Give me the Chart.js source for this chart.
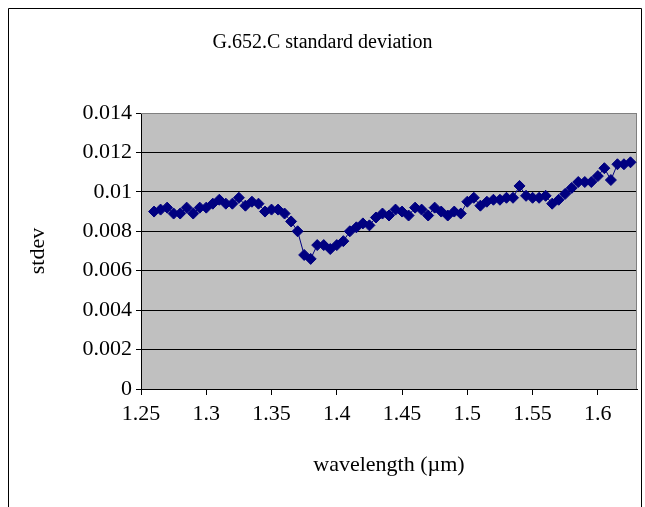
<!DOCTYPE html>
<html>
<head>
<meta charset="utf-8">
<script src="https://cdn.jsdelivr.net/npm/chart.js@4.4.1/dist/chart.umd.min.js"></script>
<style>
  body { margin: 0; background: #fff; }
  #box { position: absolute; left: 0; top: 0; width: 645px; height: 507px; }
</style>
</head>
<body>
<div id="box"><canvas id="chart" width="645" height="507"></canvas></div>
<script>
const wavelength = [
  1.26, 1.265, 1.27, 1.275, 1.28, 1.285, 1.29, 1.295, 1.3, 1.305,
  1.31, 1.315, 1.32, 1.325, 1.33, 1.335, 1.34, 1.345, 1.35, 1.355,
  1.36, 1.365, 1.37, 1.375, 1.38, 1.385, 1.39, 1.395, 1.4, 1.405,
  1.41, 1.415, 1.42, 1.425, 1.43, 1.435, 1.44, 1.445, 1.45, 1.455,
  1.46, 1.465, 1.47, 1.475, 1.48, 1.485, 1.49, 1.495, 1.5, 1.505,
  1.51, 1.515, 1.52, 1.525, 1.53, 1.535, 1.54, 1.545, 1.55, 1.555,
  1.56, 1.565, 1.57, 1.575, 1.58, 1.585, 1.59, 1.595, 1.6, 1.605,
  1.61, 1.615, 1.62, 1.625
];
const stdev = [
  0.0090, 0.0091, 0.0092, 0.0089, 0.0089, 0.0092, 0.0089, 0.0092, 0.0092, 0.0094,
  0.0096, 0.0094, 0.0094, 0.0097, 0.0093, 0.0095, 0.0094, 0.0090, 0.0091, 0.0091,
  0.0089, 0.0085, 0.0080, 0.0068, 0.0066, 0.0073, 0.0073, 0.0071, 0.0073, 0.0075,
  0.0080, 0.0082, 0.0084, 0.0083, 0.0087, 0.0089, 0.0088, 0.0091, 0.0090, 0.0088,
  0.0092, 0.0091, 0.0088, 0.0092, 0.0090, 0.0088, 0.0090, 0.0089, 0.0095, 0.0097,
  0.0093, 0.0095, 0.0096, 0.0096, 0.0097, 0.0097, 0.0103, 0.0098, 0.0097, 0.0097,
  0.0098, 0.0094, 0.0096, 0.0099, 0.0102, 0.0105, 0.0105, 0.0105, 0.0108, 0.0112,
  0.0106, 0.0114, 0.0114, 0.0115
];
const xTickValues = [1.25, 1.3, 1.35, 1.4, 1.45, 1.5, 1.55, 1.6];
const yTickValues = [0, 0.002, 0.004, 0.006, 0.008, 0.01, 0.012, 0.014];

const points = [];
for (let i = 0; i < wavelength.length; i++) {
  points.push({ x: wavelength[i], y: stdev[i] });
}

const serif = 'Liberation Serif';

// grey plot background, grey edge on top/right, outer chart frame
const plotBox = {
  id: 'plotBox',
  beforeDraw(chart) {
    const { ctx, chartArea: a } = chart;
    ctx.save();
    ctx.fillStyle = '#fff';
    ctx.fillRect(0, 0, chart.width, chart.height);
    ctx.fillStyle = '#c0c0c0';
    ctx.fillRect(a.left, a.top, a.right - a.left, a.bottom - a.top);
    ctx.strokeStyle = '#000';
    ctx.lineWidth = 1;
    ctx.beginPath();
    ctx.moveTo(8.5, chart.height);
    ctx.lineTo(8.5, 8.5);
    ctx.lineTo(641.5, 8.5);
    ctx.lineTo(641.5, chart.height);
    ctx.stroke();
    ctx.restore();
  },
  beforeDatasetsDraw(chart) {
    const { ctx, chartArea: a } = chart;
    ctx.save();
    ctx.strokeStyle = '#808080';
    ctx.lineWidth = 1;
    ctx.beginPath();
    ctx.moveTo(a.left, a.top + 0.5);
    ctx.lineTo(a.right - 0.5, a.top + 0.5);
    ctx.lineTo(a.right - 0.5, a.bottom);
    ctx.stroke();
    ctx.restore();
  }
};

const ctx = document.getElementById('chart');

new Chart(ctx, {
  type: 'scatter',
  data: {
    datasets: [{
      label: 'stdev',
      data: points,
      showLine: true,
      borderColor: '#000080',
      borderWidth: 1,
      pointStyle: 'rectRot',
      pointRadius: 5.5,
      pointBorderWidth: 1,
      pointBackgroundColor: '#000080',
      pointBorderColor: '#000080'
    }]
  },
  options: {
    responsive: false,
    animation: false,
    layout: { padding: { left: 0, right: 0, top: 0, bottom: 0 } },
    plugins: {
      legend: { display: false },
      tooltip: { enabled: false },
      title: {
        display: true,
        text: 'G.652.C standard deviation',
        color: '#000',
        font: { family: serif, size: 20, weight: 'normal' },
        padding: { top: 31, bottom: 58 }
      }
    },
    scales: {
      x: {
        type: 'linear',
        min: 1.25,
        max: 1.63,
        afterBuildTicks: s => { s.ticks = xTickValues.map(v => ({ value: v })); },
        afterFit: s => { s.height = 118; },
        ticks: {
          color: '#000',
          font: { family: serif, size: 22 },
          padding: 6,
          maxRotation: 0,
          autoSkip: false,
          callback: v => String(v)
        },
        grid: { drawOnChartArea: false, drawTicks: true, tickLength: 6, tickColor: '#000' },
        border: { display: true, color: '#000', width: 1 },
        title: {
          display: true,
          text: 'wavelength (µm)',
          color: '#000',
          font: { family: serif, size: 22 },
          padding: { top: 0, bottom: 29 }
        }
      },
      y: {
        type: 'linear',
        min: 0,
        max: 0.014,
        afterBuildTicks: s => { s.ticks = yTickValues.map(v => ({ value: v })); },
        afterFit: s => { s.width = 141; },
        ticks: {
          color: '#000',
          font: { family: serif, size: 22 },
          padding: 4,
          autoSkip: false,
          callback: v => String(v)
        },
        grid: {
          color: c => (c.tick && c.tick.value === 0.014) ? '#808080' : '#000',
          lineWidth: 1,
          drawTicks: true,
          tickLength: 5,
          tickColor: '#000'
        },
        border: { display: true, color: '#000', width: 1 },
        title: {
          display: true,
          text: 'stdev',
          color: '#000',
          font: { family: serif, size: 22 },
          padding: { top: 25, bottom: 0 }
        }
      },
      spacer: {
        type: 'linear',
        position: 'right',
        display: true,
        afterFit: s => { s.width = 8; },
        ticks: { display: false },
        grid: { display: false },
        border: { display: false }
      }
    }
  },
  plugins: [plotBox]
});
</script>
</body>
</html>
